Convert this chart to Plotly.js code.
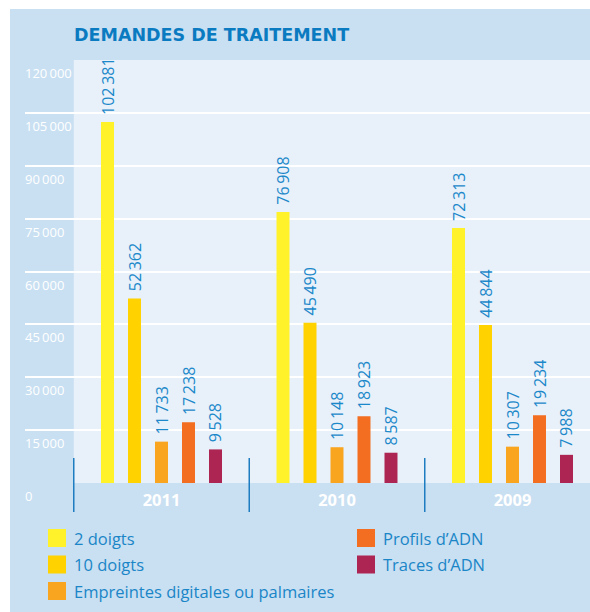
<!DOCTYPE html>
<html><head><meta charset="utf-8">
<script src="https://cdn.plot.ly/plotly-3.0.1.min.js"></script>
<style>html,body{margin:0;padding:0;background:#fff}</style>
</head><body><div id="chart" style="width:590px;height:612px"></div>
<script>
// ---- data ----
const years = ['2011', '2010', '2009'];
const seriesNames = ['2 doigts', '10 doigts', 'Empreintes digitales ou palmaires', 'Profils d\u2019ADN', 'Traces d\u2019ADN'];
const deuxDoigts = [102381, 76908, 72313];
const dixDoigts = [52362, 45490, 44844];
const empreintes = [11733, 10148, 10307];
const profilsADN = [17238, 18923, 19234];
const tracesADN = [9528, 8587, 7988];
const seriesColors = ['#FFF22B', '#FFD200', '#F9A51F', '#F36E21', '#AD2552'];
const yTickVals = [0, 15000, 30000, 45000, 60000, 75000, 90000, 105000, 120000];
const yTickText = ['0', '15\u2009000', '30\u2009000', '45\u2009000', '60\u2009000', '75\u2009000', '90\u2009000', '105\u2009000', '120\u2009000'];
const chartTitle = 'DEMANDES DE TRAITEMENT';

// ---- geometry ----
const W = 590, H = 612, L = 25, R = 0, T = 60, B = 129;
const plotW = W - L - R, plotH = H - T - B;
const pxPerCat = 175.5, firstCenterPx = 161.5;
const xStart = -(firstCenterPx - L) / pxPerCat;
const xEnd = xStart + plotW / pxPerCat;
const px2x = p => (p - L) / plotW;
const py2y = p => (H - B - p) / plotH;

const seriesValues = [deuxDoigts, dixDoigts, empreintes, profilsADN, tracesADN];

const traces = seriesValues.map((vals, i) => ({
  type: 'bar', x: years, y: vals, name: seriesNames[i],
  marker: {color: seriesColors[i], line: {width: 0}},
  texttemplate: '\u00a0%{y:,}', textposition: 'outside', textangle: -90,
  textfont: {family: 'Open Sans', size: 16, color: '#1B88CA'},
  constraintext: 'none', cliponaxis: false, showlegend: false, hoverinfo: 'skip'
}));

const shapes = [
  {type: 'rect', xref: 'paper', yref: 'paper', x0: px2x(10), x1: px2x(W), y0: py2y(H), y1: py2y(9),
   fillcolor: '#C9DFF2', line: {width: 0}, layer: 'below'},
  {type: 'rect', xref: 'x', yref: 'y', x0: -0.5, x1: xEnd, y0: 0, y1: yTickVals[yTickVals.length - 1],
   fillcolor: '#E8F0F9', line: {width: 0}, layer: 'below'}
];
years.forEach((y, i) => {
  shapes.push({type: 'line', xref: 'x', yref: 'paper', x0: i - 0.5, x1: i - 0.5,
    y0: py2y(512), y1: py2y(458), line: {color: '#1D7DC0', width: 1.5}, layer: 'above'});
});

const annotations = [];
// y tick labels, left aligned below each grid line
yTickVals.forEach((v, i) => {
  annotations.push({xref: 'paper', yref: 'y', x: 0, y: v, xanchor: 'left', yanchor: 'middle',
    xshift: -2, yshift: -13, showarrow: false, text: yTickText[i],
    font: {family: 'Open Sans', size: 13, color: '#ffffff'}});
});
// manual legend: two columns
const legendCols = [[0, 1, 2], [3, 4]];
const colSwatchPx = [48, 357];
const rowCenterPx = [538, 564.5, 591];
legendCols.forEach((col, c) => {
  col.forEach((si, r) => {
    const cy = rowCenterPx[r];
    shapes.push({type: 'rect', xref: 'paper', yref: 'paper',
      x0: px2x(colSwatchPx[c]), x1: px2x(colSwatchPx[c] + 18),
      y0: py2y(cy + 9), y1: py2y(cy - 9),
      fillcolor: seriesColors[si], line: {width: 0}, layer: 'above'});
    annotations.push({xref: 'paper', yref: 'paper', x: px2x(colSwatchPx[c] + 24), y: py2y(cy),
      xanchor: 'left', yanchor: 'middle', showarrow: false, text: seriesNames[si],
      font: {family: 'Open Sans', size: 16.5, color: '#1A86C7'}});
  });
});

const layout = {
  width: W, height: H,
  margin: {l: L, r: R, t: T, b: B, pad: 0},
  paper_bgcolor: '#ffffff', plot_bgcolor: 'rgba(0,0,0,0)',
  barmode: 'group', bargap: 0.2308, bargroupgap: 0.519,
  separators: '.\u2009',
  showlegend: false,
  title: {text: chartTitle, xref: 'container', x: 74 / W, xanchor: 'left',
    yref: 'container', y: 1 - 35 / H, yanchor: 'middle',
    font: {family: 'DejaVu Sans', size: 17.5, weight: 700, color: '#0B7BC1'}},
  xaxis: {type: 'category', range: [xStart, xEnd], showgrid: false, zeroline: false, showline: false,
    ticks: '', ticklabelstandoff: 5,
    tickfont: {family: 'Open Sans', size: 16.5, weight: 700, color: '#ffffff'}, fixedrange: true},
  yaxis: {range: [0, 120000], tickmode: 'array', tickvals: yTickVals,
    showgrid: true, gridcolor: '#ffffff', gridwidth: 2, zeroline: false, showline: false, ticks: '',
    showticklabels: false, fixedrange: true},
  shapes: shapes,
  annotations: annotations
};

Plotly.newPlot('chart', traces, layout, {displayModeBar: false, staticPlot: true});
</script>
</body></html>
